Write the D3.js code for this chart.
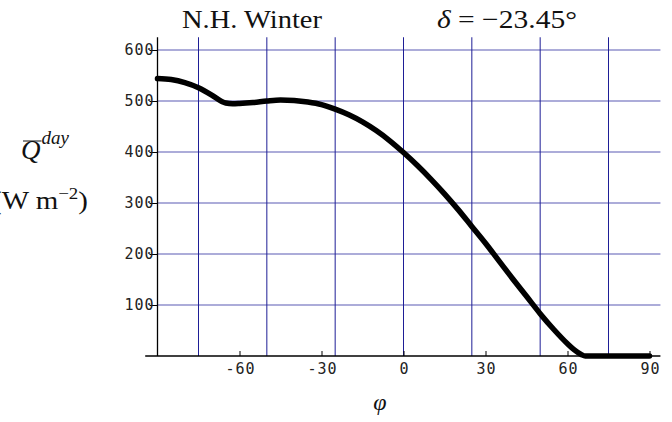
<!DOCTYPE html>
<html>
<head>
<meta charset="utf-8">
<script src="https://cdn.jsdelivr.net/npm/d3@7"></script>
<style>
  html, body { margin: 0; padding: 0; background: #fff; }
  svg { display: block; }
</style>
</head>
<body>
<svg id="chart" width="672" height="422"></svg>
<script>
// ---- data ----
const latitudes = [-90,-85,-80,-75,-70,-66.5,-65,-62.5,-60,-55,-50,-45,-40,-35,-30,-25,-20,-15,-10,-5,0,5,10,15,20,25,30,35,40,45,50,55,60,62.5,65,66.5,70,75,80,85,90];
const insolation = [544,542,536,526,511,499,496,494.5,495,497,500,502,501,498,493,484,473,459,442,422,399,374,347,318,287,254,221,186,151,117,83,52,24,12,3,0,0,0,0,0,0];
const xTickValues = [-60,-30,0,30,60,90];
const yTickValues = [100,200,300,400,500,600];
const xGridValues = [-75,-50,-25,0,25,50,75];
const yGridValues = [100,200,300,400,500,600];
const titleLeft = "N.H. Winter";
const xLabel = "\u03C6";

// ---- layout ----
const svg = d3.select("#chart");
const x = d3.scaleLinear().domain([-90, 90]).range([157.5, 649.5]);
const y = d3.scaleLinear().domain([0, 600]).range([356, 50]);
const xMinLine = -94.5, xMaxLine = 94, yMaxLine = 625;

// grid
svg.append("g").selectAll("line").data(yGridValues).join("line")
  .attr("x1", x(-90)).attr("x2", x(xMaxLine))
  .attr("y1", d => y(d)).attr("y2", d => y(d))
  .attr("stroke", "#5a5ab4").attr("stroke-width", 1.1);
svg.append("g").selectAll("line").data(xGridValues).join("line")
  .attr("x1", d => x(d)).attr("x2", d => x(d))
  .attr("y1", y(yMaxLine)).attr("y2", y(0))
  .attr("stroke", "#1e1e96").attr("stroke-width", 1);

// axes lines
svg.append("line").attr("x1", x(xMinLine)).attr("x2", x(xMaxLine))
  .attr("y1", y(0)).attr("y2", y(0)).attr("stroke", "#000").attr("stroke-width", 1.3);
svg.append("line").attr("x1", x(-90)).attr("x2", x(-90))
  .attr("y1", y(yMaxLine)).attr("y2", y(0)).attr("stroke", "#000").attr("stroke-width", 1.3);

const monoFont = "DejaVu Sans Mono";

// x axis ticks and labels
const xAxis = d3.axisBottom(x).tickValues(xTickValues).tickSizeInner(-5).tickSizeOuter(0).tickPadding(7)
  .tickFormat(d3.format("d"));
const gx = svg.append("g").attr("transform", `translate(0,${y(0)})`).call(xAxis);
gx.select(".domain").remove();
gx.selectAll("line").attr("stroke", "#000");
gx.selectAll("text").attr("font-family", monoFont).attr("font-size", 15)
  .attr("letter-spacing", "1px").attr("fill", "#222").attr("dx", "0.5px")
  .text(d => d < 0 ? "-" + Math.abs(d) : d);

// y axis ticks and labels
const yAxis = d3.axisLeft(y).tickValues(yTickValues).tickSizeInner(8).tickSizeOuter(0).tickPadding(-5)
  .tickFormat(d3.format("d"));
const gy = svg.append("g").attr("transform", `translate(${x(-90)},0)`).call(yAxis);
gy.select(".domain").remove();
gy.selectAll("line").attr("stroke", "#000");
gy.selectAll("text").attr("font-family", monoFont).attr("font-size", 15)
  .attr("letter-spacing", "1px").attr("fill", "#222");

// curve
const line = d3.line().x((d, i) => x(latitudes[i])).y(d => y(d)).curve(d3.curveMonotoneX);
svg.append("path").datum(insolation).attr("d", line)
  .attr("fill", "none").attr("stroke", "#000").attr("stroke-width", 5.5)
  .attr("stroke-linecap", "round").attr("stroke-linejoin", "round");

// titles
const serif = "Liberation Serif, Times New Roman, serif";
svg.append("text").attr("x", 182).attr("y", 28).attr("font-family", serif).attr("font-size", 26)
  .attr("textLength", 140).attr("lengthAdjust", "spacingAndGlyphs").attr("fill", "#111").text(titleLeft);
const t2 = svg.append("text").attr("x", 437).attr("y", 28).attr("font-family", serif).attr("font-size", 26)
  .attr("textLength", 140).attr("lengthAdjust", "spacingAndGlyphs").attr("fill", "#111");
t2.append("tspan").attr("font-style", "italic").text("\u03B4");
t2.append("tspan").text(" = \u221223.45\u00B0");

// y label: Q-bar^day
const q = svg.append("text").attr("x", 21).attr("y", 159).attr("font-family", serif).attr("font-size", 27)
  .attr("font-style", "italic").attr("fill", "#111").text("Q");
const qb = q.node().getBBox();
svg.append("line").attr("x1", qb.x + 2).attr("x2", qb.x + qb.width + 1)
  .attr("y1", 141).attr("y2", 141).attr("stroke", "#111").attr("stroke-width", 1);
svg.append("text").attr("x", qb.x + qb.width + 1).attr("y", 144).attr("font-family", serif).attr("font-size", 19)
  .attr("font-style", "italic").attr("fill", "#111").text("day");

// units (left parenthesis clipped by the left edge, as in the reference)
const u = svg.append("text").attr("x", -8).attr("y", 209)
  .attr("font-family", serif).attr("font-size", 26).attr("fill", "#111")
  .attr("textLength", 96).attr("lengthAdjust", "spacingAndGlyphs");
u.append("tspan").text("(W m");
u.append("tspan").attr("font-size", 17).attr("dy", -10).text("\u22122");
u.append("tspan").attr("dy", 10).text(")");

// x label
svg.append("text").attr("x", 380).attr("y", 410).attr("text-anchor", "middle")
  .attr("font-family", serif).attr("font-size", 24).attr("font-style", "italic").attr("fill", "#111").text(xLabel);
</script>
</body>
</html>
